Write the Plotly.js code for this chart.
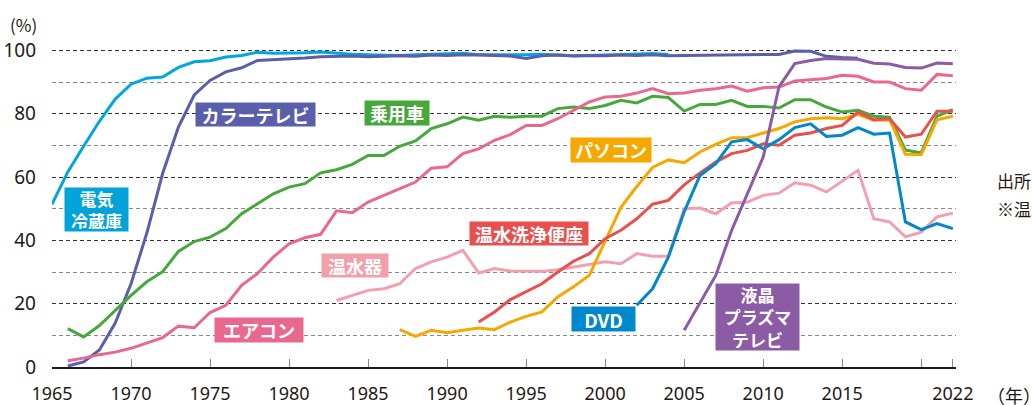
<!DOCTYPE html>
<html>
<head>
<meta charset="utf-8">
<script src="https://cdn.plot.ly/plotly-3.0.1.min.js"></script>
<style>
  html, body { margin: 0; padding: 0; background: #fff; }
  #chart { width: 1032px; height: 405px; }
</style>
</head>
<body>
<div id="chart"></div>
<script>
// 主要耐久消費財の普及率 (%), 各年のデータ
var fridgeStart = 1965;
var fridge = [51.4, 61.6, 69.7, 77.6, 84.6, 89.3, 91.2, 91.6, 94.6, 96.4,
  96.7, 97.9, 98.4, 99.4, 99.1, 99.1, 99.2, 99.5, 99.1, 98.8,
  98.6, 98.5, 98.4, 98.6, 98.7, 98.8, 99.1, 98.6, 98.6, 98.5,
  98.6, 98.8, 98.6, 98.3, 98.4, 98.5, 98.6, 98.9, 99.0, 98.7];

var colorTvStart = 1966;
var colorTv = [0.3, 1.6, 5.4, 13.9, 26.3, 42.3, 61.1, 75.8, 85.9, 90.5,
  93.2, 94.5, 96.8, 97.0, 97.3, 97.6, 98.0, 98.1, 98.2, 98.0,
  98.2, 98.3, 98.1, 98.5, 98.4, 98.6, 98.5, 98.4, 98.2, 97.4,
  98.3, 98.5, 98.2, 98.4, 98.3, 98.5, 98.4, 98.6, 98.3, 98.4,
  98.5, 98.6, 98.7, 98.6, 98.7, 98.7, 99.8, 99.7, 98.1, 97.7,
  97.5];

var carStart = 1966;
var car = [12.1, 9.5, 13.1, 17.8, 22.6, 26.9, 30.1, 36.5, 39.6, 41.0,
  43.7, 48.4, 51.6, 54.7, 56.8, 57.9, 61.3, 62.3, 64.0, 66.8,
  66.8, 69.7, 71.4, 75.3, 76.8, 78.9, 77.9, 79.2, 78.9, 79.2,
  79.2, 81.6, 82.1, 81.6, 82.6, 84.2, 83.4, 85.5, 85.1, 80.8,
  82.9, 82.9, 84.2, 82.3, 82.3, 81.8, 84.4, 84.4, 82.1, 80.5,
  81.1, 79.2, 78.9, 68.5, 67.6, 79.2, 81.3];

var airconStart = 1966;
var aircon = [2.0, 2.8, 3.9, 4.7, 5.9, 7.7, 9.3, 12.9, 12.4, 17.2,
  19.5, 25.8, 29.5, 34.7, 38.9, 40.8, 41.9, 49.3, 48.7, 52.1,
  54.2, 56.3, 58.4, 62.8, 63.2, 67.4, 68.9, 71.6, 73.4, 76.3,
  76.3, 78.4, 81.1, 83.7, 85.3, 85.5, 86.5, 87.9, 86.3, 86.5,
  87.4, 87.9, 88.7, 87.1, 88.2, 88.4, 90.3, 90.8, 91.1, 92.1,
  91.8, 90.0, 90.0, 87.9, 87.4, 92.4, 92.0];

var heaterStart = 1983;
var heater = [21.0, 22.6, 24.2, 24.7, 26.3, 31.1, 33.2, 34.7, 36.8, 29.7,
  31.1, 30.3, 30.3, 30.2, 30.7, 31.6, 32.4, 33.2, 32.6, 35.8,
  35.0, 35.0, 50.0, 50.2, 48.4, 51.8, 52.1, 54.2, 54.9, 58.2,
  57.4, 55.3, 58.7, 62.1, 46.8, 45.8, 41.1, 42.6, 47.4, 48.6];

var pcStart = 1987;
var pc = [11.8, 9.7, 11.6, 10.8, 11.6, 12.3, 11.8, 14.2, 16.0, 17.4,
  22.1, 25.3, 29.0, 39.8, 50.4, 57.0, 63.0, 65.4, 64.5, 67.9,
  70.3, 72.4, 72.4, 73.9, 75.3, 77.4, 78.4, 78.7, 78.4, 79.8,
  77.9, 78.1, 67.2, 67.0, 78.1, 79.2];

var toiletStart = 1992;
var toilet = [14.2, 17.4, 21.3, 23.7, 26.3, 30.0, 33.4, 35.8, 40.5, 43.2,
  46.8, 51.4, 52.6, 57.5, 61.3, 64.7, 67.4, 68.4, 70.5, 70.0,
  73.2, 73.9, 75.3, 76.3, 80.5, 78.1, 78.4, 72.6, 73.5, 80.8,
  80.8];

var dvdStart = 2002;
var dvd = [19.5, 24.7, 34.7, 49.0, 60.5, 64.2, 71.1, 71.8, 68.9, 71.8,
  75.6, 76.8, 72.8, 73.2, 75.6, 73.5, 73.9, 45.8, 43.4, 45.3,
  43.7];

var flatTvStart = 2005;
var flatTv = [11.6, 20.2, 28.9, 43.1, 54.7, 66.3, 88.5, 95.8, 96.8, 97.4,
  97.3, 97.2, 95.9, 95.7, 94.6, 94.4, 96.0, 95.8];

var tickYears = [1965, 1970, 1975, 1980, 1985, 1990, 1995, 2000, 2005, 2010, 2015, 2020, 2022];
var tickLabels = ['1965', '1970', '1975', '1980', '1985', '1990', '1995', '2000', '2005', '2010', '2015', '', '2022'];

function yearsFrom(start, vals) {
  return vals.map(function (v, i) { return start + i; });
}

function line(start, vals, color) {
  return {
    x: yearsFrom(start, vals),
    y: vals,
    type: 'scatter',
    mode: 'lines',
    line: {color: color, width: 3},
    hoverinfo: 'skip'
  };
}

var data = [
  line(fridgeStart, fridge, '#00a6dd'),
  line(colorTvStart, colorTv, '#5a5fab'),
  line(carStart, car, '#46a83a'),
  line(airconStart, aircon, '#e9688e'),
  line(heaterStart, heater, '#f2a0ad'),
  line(pcStart, pc, '#f6a800'),
  line(toiletStart, toilet, '#e8504e'),
  line(dvdStart, dvd, '#0088cc'),
  line(flatTvStart, flatTv, '#8c5ba5')
];

var jp = '"Noto Sans CJK JP", "Noto Sans", sans-serif';

// label boxes: text, centre (year, %), box size in px, colour
function tag(text, x, y, w, h, bg, size) {
  return {
    text: text, x: x, y: y, xref: 'x', yref: 'y',
    width: w, height: h,
    showarrow: false, bgcolor: bg, borderpad: 2,
    font: {family: jp, size: size || 17, color: '#fff', weight: 'bold'}
  };
}

function note(text, x, y, anchor, size) {
  return {
    text: text, x: x, y: y, xref: 'paper', yref: 'paper',
    xanchor: anchor, yanchor: 'middle', showarrow: false,
    font: {family: jp, size: size, color: '#231815'}
  };
}

var layout = {
  width: 1032,
  height: 405,
  margin: {l: 52, r: 76, t: 44, b: 38},
  paper_bgcolor: '#fff',
  plot_bgcolor: '#fff',
  showlegend: false,
  hovermode: false,
  xaxis: {
    range: [1965, 2022.2],
    tickmode: 'array',
    tickvals: tickYears,
    ticktext: tickLabels,
    ticks: 'inside',
    ticklen: 8,
    tickcolor: '#8a8a8a',
    tickwidth: 1,
    ticklabelstandoff: 10,
    showline: true,
    linecolor: '#231815',
    linewidth: 1.5,
    showgrid: false,
    zeroline: false,
    tickfont: {family: 'Noto Sans, sans-serif', size: 18, color: '#231815'}
  },
  yaxis: {
    range: [0, 102],
    tickmode: 'linear',
    tick0: 0,
    dtick: 20,
    showline: false,
    zeroline: false,
    showgrid: true,
    gridcolor: '#333',
    gridwidth: 1,
    griddash: '4px,3px',
    ticklabelstandoff: 15,
    minor: {dtick: 10, showgrid: true, gridcolor: '#888', gridwidth: 1, griddash: '4px,3px'},
    tickfont: {family: 'Noto Sans, sans-serif', size: 19, color: '#231815'}
  },
  annotations: [
    tag('電気<br>冷蔵庫', 1967.8, 49.6, 59, 39, '#00a3da'),
    tag('カラーテレビ', 1977.9, 79.8, 115, 19, '#5a5fab', 18),
    tag('乗用車', 1986.8, 80.1, 60, 20, '#46a83a', 18),
    tag('エアコン', 1978.1, 11.6, 84, 20, '#e9688e', 18),
    tag('温水器', 1984.2, 32.0, 62, 19, '#f29fac', 18),
    tag('温水洗浄便座', 1995.2, 42.1, 114, 19, '#e8504e', 18),
    tag('パソコン', 2000.4, 68.4, 76, 20, '#f6a800', 18),
    tag('DVD', 1999.9, 15.1, 59, 20, '#0088cc', 19),
    tag('液晶<br>プラズマ<br>テレビ', 2009.65, 15.7, 79, 62, '#8c5ba5'),
    note('(%)', -0.031, 1.06, 'center', 17),
    note('（年）', 1.032, -0.087, 'left', 18),
    note('出所：内閣府「消費動向調査」', 1.043, 0.576, 'left', 17),
    note('※温水器は電気温水器', 1.043, 0.492, 'left', 17)
  ]
};

Plotly.newPlot('chart', data, layout, {displayModeBar: false, staticPlot: true});
</script>
</body>
</html>
